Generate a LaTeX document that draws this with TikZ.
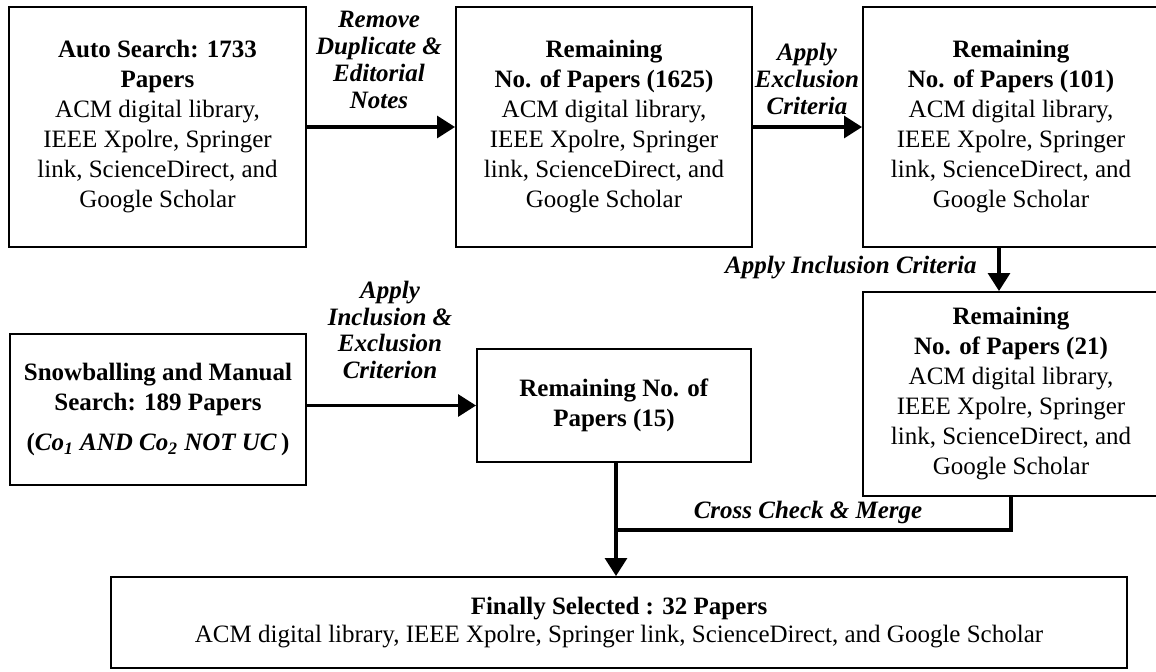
\documentclass[tikz,border=0pt]{standalone}
\usepackage{fontspec}
\setmainfont{Liberation Serif}
\usetikzlibrary{arrows.meta}
\begin{document}
\begin{tikzpicture}[x=0.5pt,y=-0.5pt,
  box/.style={draw, line width=1pt, rectangle, align=center, inner sep=0pt,
    font=\fontsize{12.5}{15}\selectfont},
  lbl/.style={align=center, inner sep=0pt,
    font=\fontsize{12.5}{13.4}\selectfont\bfseries\itshape},
  conn/.style={line width=1.6pt, -{Triangle[length=9pt,width=11pt]}},
  plainline/.style={line width=1.6pt}]
\useasboundingbox (0,0) rectangle (1156,671);

% boxes
\node[box, minimum width=148.5pt, minimum height=120pt] (b1) at (157.5,127)
  {\textbf{Auto Search: 1733}\\\textbf{Papers}\\ACM digital library,\\IEEE Xpolre, Springer\\link, ScienceDirect, and\\Google Scholar};
\node[box, minimum width=148pt, minimum height=120pt] (b2) at (604,127)
  {\textbf{Remaining}\\\textbf{No. of Papers (1625)}\\ACM digital library,\\IEEE Xpolre, Springer\\link, ScienceDirect, and\\Google Scholar};
\node[box, minimum width=148pt, minimum height=120pt] (b3) at (1011,127)
  {\textbf{Remaining}\\\textbf{No. of Papers (101)}\\ACM digital library,\\IEEE Xpolre, Springer\\link, ScienceDirect, and\\Google Scholar};
\node[box, minimum width=148pt, minimum height=102pt] (b4) at (1011,394)
  {\textbf{Remaining}\\\textbf{No. of Papers (21)}\\ACM digital library,\\IEEE Xpolre, Springer\\link, ScienceDirect, and\\Google Scholar};
\node[box, minimum width=148pt, minimum height=75.5pt] (b5) at (158,409.5)
  {\textbf{Snowballing and Manual}\\\textbf{Search: 189 Papers}\\[5pt]\textbf{(\textit{Co\textsubscript{1} AND Co\textsubscript{2} NOT UC}\,)}};
\node[box, minimum width=137pt, minimum height=56.5pt] (b6) at (614,405.5)
  {\textbf{Remaining No. of}\\\textbf{Papers (15)}};
\node[box, minimum width=508pt, minimum height=45.5pt, font=\fontsize{12.5}{14}\selectfont] (b7) at (619,622.5)
  {\textbf{Finally Selected : 32 Papers}\\ACM digital library, IEEE Xpolre, Springer link, ScienceDirect, and Google Scholar};

% helper coordinates
\coordinate (ax) at (999,0);
\coordinate (m) at (616,530);

% connectors
\draw[conn] (b1.east) -- (b2.west);
\draw[conn] (b2.east) -- (b3.west);
\draw[conn] (b3.south -| ax) -- (b4.north -| ax);
\draw[conn] (b5.east |- b6.west) -- (b6.west);
\draw[conn] (b6.south -| m) -- (b7.north -| m);
\draw[plainline] (b4.south) |- (m);

% labels
\node[lbl] (l1) at (379,60) {Remove\\Duplicate \&\\Editorial\\Notes};
\node[lbl] (l2) at (807,79) {Apply\\Exclusion\\Criteria};
\node[lbl] (l3) at (390,330) {Apply\\Inclusion \&\\Exclusion\\Criterion};
\node[lbl, anchor=east] (l4) at (977,268) {Apply Inclusion Criteria};
\node[lbl] (l5) at (808,512) {Cross Check \& Merge};
\end{tikzpicture}
\end{document}
